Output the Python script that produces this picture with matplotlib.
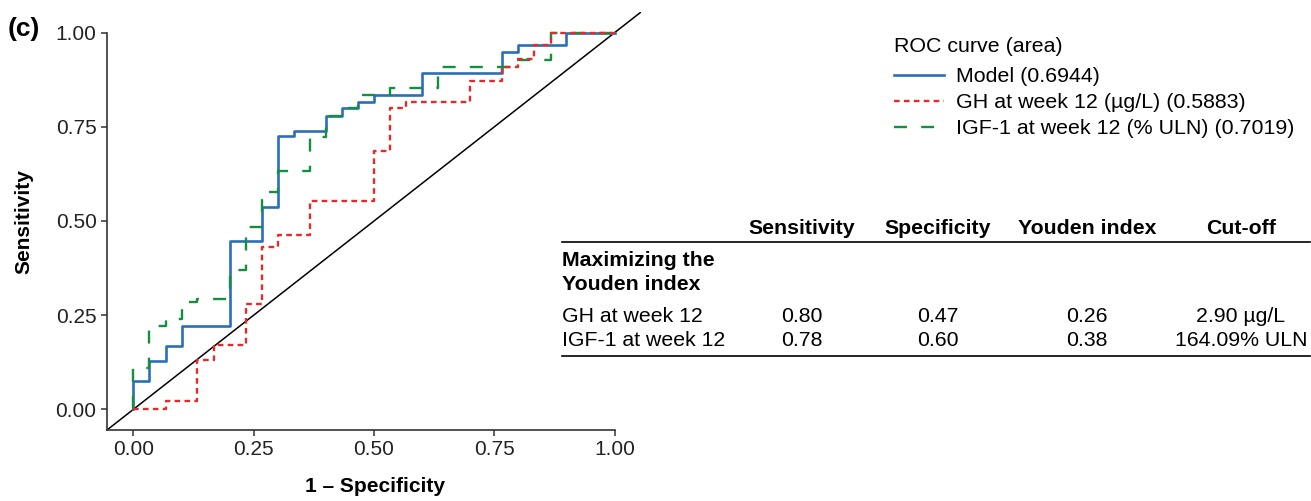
import numpy as np
import matplotlib
matplotlib.use('Agg')
import matplotlib.pyplot as plt

plt.rcParams['font.family'] = ['Liberation Sans', 'DejaVu Sans']

# ROC curves: 1 - specificity (fpr) and sensitivity (tpr)
model_fpr = [0, 0, 0.033, 0.067, 0.1, 0.2, 0.267, 0.3, 0.333, 0.4, 0.433, 0.467, 0.5, 0.6, 0.767, 0.8, 0.9, 1.0]
model_tpr = [0, 0.074, 0.128, 0.169, 0.222, 0.447, 0.538, 0.727, 0.740, 0.780, 0.800, 0.817, 0.835, 0.892, 0.950, 0.968, 1.0, 1.0]

gh_fpr = [0, 0.067, 0.133, 0.167, 0.233, 0.267, 0.3, 0.367, 0.5, 0.533, 0.567, 0.7, 0.767, 0.8, 0.833, 0.867, 1.0]
gh_tpr = [0, 0.021, 0.130, 0.170, 0.280, 0.430, 0.462, 0.554, 0.685, 0.800, 0.817, 0.873, 0.910, 0.930, 0.968, 1.0, 1.0]

igf_fpr = [0, 0, 0.033, 0.067, 0.1, 0.133, 0.2, 0.233, 0.267, 0.3, 0.367, 0.4, 0.433, 0.467, 0.533, 0.633, 0.783, 0.867, 1.0]
igf_tpr = [0, 0.109, 0.220, 0.240, 0.285, 0.292, 0.369, 0.484, 0.576, 0.634, 0.724, 0.780, 0.800, 0.835, 0.853, 0.910, 0.928, 1.0, 1.0]

labels = ['Model (0.6944)', 'GH at week 12 (\u00b5g/L) (0.5883)', 'IGF-1 at week 12 (% ULN) (0.7019)']
ticks = [0.00, 0.25, 0.50, 0.75, 1.00]

# Youden index table
table_cols = ['Sensitivity', 'Specificity', 'Youden index', 'Cut-off']
table_rows = ['GH at week 12', 'IGF-1 at week 12']
sens = [0.80, 0.78]
spec = [0.47, 0.60]
youden = [0.26, 0.38]
cutoff = ['2.90 \u00b5g/L', '164.09% ULN']

W, H = 1311, 501
def fx(px):
    return px / W
def fy(py):
    return 1 - py / H

fig = plt.figure(figsize=(W / 100, H / 100), dpi=100)
ax = fig.add_axes([fx(107), fy(430), fx(641) - fx(107), fy(12) - fy(430)])

lo, hi = -0.055, 1.055
ax.plot([lo, hi], [lo, hi], color='black', lw=1.1, zorder=1)
l1, = ax.step(model_fpr, model_tpr, where='post', color='#2b6fb8', lw=1.9, zorder=3)
l3, = ax.step(igf_fpr, igf_tpr, where='post', color='#13903f', lw=1.7, dashes=(5.5, 6), zorder=4)
l2, = ax.step(gh_fpr, gh_tpr, where='post', color='#e62a2a', lw=1.7, dashes=(2.4, 1.8), zorder=5)

ax.set_xlim(lo, hi)
ax.set_ylim(lo, hi)
ax.set_xticks(ticks)
ax.set_yticks(ticks)
ax.set_xticklabels(['%.2f' % t for t in ticks])
ax.set_yticklabels(['%.2f' % t for t in ticks])
for s in ['top', 'right']:
    ax.spines[s].set_visible(False)
ax.spines['left'].set_bounds(lo, 1.0)
ax.spines['bottom'].set_bounds(lo, 1.0)
for s in ['left', 'bottom']:
    ax.spines[s].set_color('#333333')
    ax.spines[s].set_linewidth(1.2)
ax.tick_params(direction='out', length=4.5, width=1.1, color='#333333', labelsize=15,
               labelcolor='#222222', pad=3)

# axis titles and panel letter
fig.text(fx(375), fy(487), '1 \u2013 Specificity', fontsize=15, fontweight='bold', ha='center', va='center')
fig.text(fx(24), fy(222), 'Sensitivity', fontsize=15, fontweight='bold', ha='center', va='center',
         rotation=90)
fig.text(fx(8), fy(29), '(c)', fontsize=19, fontweight='bold', va='center', ha='left')

leg = ax.legend([l1, l2, l3], labels, title='ROC curve (area)', loc='upper left',
                bbox_to_anchor=(fx(894), fy(37)), bbox_transform=fig.transFigure,
                frameon=False, fontsize=15.4, title_fontsize=15.4, handlelength=2.35,
                handletextpad=0.55, labelspacing=0.33, borderpad=0, borderaxespad=0,
                alignment='left')
leg._legend_box.sep = 0.33 * 15.4 + 3  # a little more room under the title

# table drawn as figure text
col_x = [802, 938, 1087, 1241]
fs = 15.3
for x, c in zip(col_x, table_cols):
    fig.text(fx(x), fy(228), c, ha='center', va='center', fontsize=fs, fontweight='bold')
fig.add_artist(plt.Line2D([fx(562), fx(1310)], [fy(242), fy(242)], color='black', lw=1.2))
fig.text(fx(562), fy(260), 'Maximizing the', ha='left', va='center', fontsize=fs, fontweight='bold')
fig.text(fx(562), fy(285), 'Youden index', ha='left', va='center', fontsize=fs, fontweight='bold')
row_y = [316, 340]
for i, y in enumerate(row_y):
    fig.text(fx(562), fy(y), table_rows[i], ha='left', va='center', fontsize=fs)
    vals = ['%.2f' % sens[i], '%.2f' % spec[i], '%.2f' % youden[i], cutoff[i]]
    for x, v in zip(col_x, vals):
        fig.text(fx(x), fy(y), v, ha='center', va='center', fontsize=fs)
fig.add_artist(plt.Line2D([fx(562), fx(1310)], [fy(356), fy(356)], color='black', lw=1.2))

fig.savefig('out.png', dpi=100)
